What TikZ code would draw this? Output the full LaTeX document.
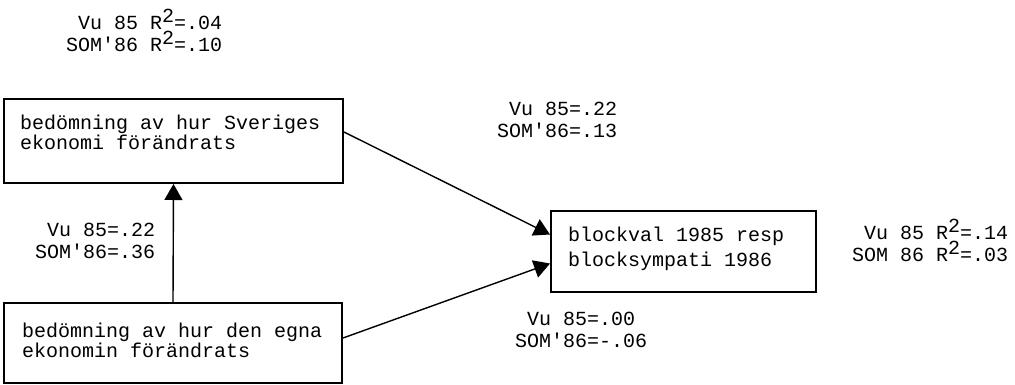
\documentclass[tikz,border=0pt]{standalone}
\usepackage{fontspec}
\setmonofont{Liberation Mono}
\usetikzlibrary{arrows.meta}

\tikzset{
	faktor/.style={draw, line width=2pt, inner sep=0pt, anchor=north west},
	faktortext/.style={font=\ttfamily\fontsize{20}{20}\selectfont, inner sep=0pt, align=left, anchor=north west},
	koef/.style={font=\ttfamily\fontsize{20}{22}\selectfont, inner sep=0pt, align=left, anchor=west},
	pil/.style={line width=1.4pt, arrows={-{Triangle[length=16pt, width=18pt, fill=black]}}}
}
\newcommand{\kvadrat}{\raisebox{0.35em}{2}}

\begin{document}
\begin{tikzpicture}[x=1pt, y=-1pt]
	\useasboundingbox (0,0) rectangle (1015,384);
	% boxes
	\node [faktor, minimum width=339pt, minimum height=84pt] (sverige) at (3,98) {};
	\node [faktor, minimum width=338pt, minimum height=80pt] (egen) at (3,302) {};
	\node [faktor, minimum width=265pt, minimum height=81pt] (blockval) at (550,210) {};
	\node [faktortext] (sverigetext) at (20,115) {bedömning av hur Sveriges\\ekonomi förändrats};
	\node [faktortext] (egentext) at (22,323) {bedömning av hur den egna\\ekonomin förändrats};
	\node [faktortext, font=\ttfamily\fontsize{20}{25}\selectfont] (blocktext) at (568,227) {blockval 1985 resp\\blocksympati 1986};
	% paths
	\draw [pil] (egen.north) -- (sverige.south);
	\draw [pil] ([yshift=9pt]sverige.east) -- ([yshift=17pt]blockval.west);
	\draw [pil] ([yshift=5pt]egen.east) -- ([yshift=-12pt]blockval.west);
	% coefficients
	\node [koef] (r2sverige) at (66,30) {\phantom{S}Vu 85 R\kvadrat=.04\\SOM\textquotesingle 86 R\kvadrat=.10};
	\node [koef] (egensverige) at (35,241) {\phantom{S}Vu 85=.22\\SOM\textquotesingle 86=.36};
	\node [koef] (sverigeblock) at (497,120) {\phantom{S}Vu 85=.22\\SOM\textquotesingle 86=.13};
	\node [koef] (egenblock) at (515,330) {\phantom{S}Vu 85=.00\\SOM\textquotesingle 86=-.06};
	\node [koef] (r2block) at (852,240) {\phantom{S}Vu 85 R\kvadrat=.14\\SOM 86 R\kvadrat=.03};
\end{tikzpicture}
\end{document}
